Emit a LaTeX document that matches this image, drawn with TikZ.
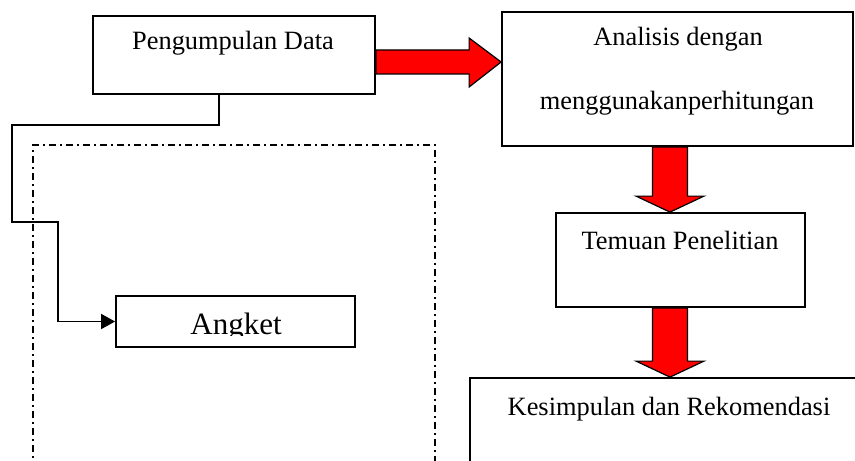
\documentclass[tikz,border=0pt]{standalone}
\usepackage{fontspec}
\setmainfont{Liberation Serif}
\usetikzlibrary{arrows.meta,calc}

\begin{document}
\begin{tikzpicture}[
    x=0.5pt, y=-0.5pt,
    font=\fontsize{13.2}{16}\selectfont,
    box/.style={draw, line width=0.9pt, inner sep=0pt},
    txt/.style={anchor=base, inner sep=0pt},
    link/.style={-{Triangle[length=7pt, width=7.5pt]}, line width=0.9pt},
    bigarrow/.style={fill=red, draw=black, line width=0.6pt, line join=miter},
    group/.style={draw, line width=0.6pt, dash pattern=on 3.5pt off 2pt on 1pt off 2pt, inner sep=0pt}
]
\useasboundingbox (0,0) rectangle (855,460);
\clip (0,0) rectangle (855,460);

% boxes
\node[box, minimum width=141pt, minimum height=39pt] (collect) at (234,55) {};
\node[txt] (collecttxt) at (233,50) {Pengumpulan Data};
\node[box, minimum width=175.5pt, minimum height=67pt] (analysis) at (677.5,79) {};
\node[txt] (analysistxt) at (678,46) {Analisis dengan};
\node[txt] (analysistxtb) at (677,110) {menggunakanperhitungan};
\node[box, minimum width=124.5pt, minimum height=47pt] (findings) at (680.5,260) {};
\node[txt] (findingstxt) at (680,249) {Temuan Penelitian};
\node[box, minimum width=199pt, minimum height=47pt] (conclusion) at (669,425) {};
\node[txt] (conclusiontxt) at (669,415) {Kesimpulan dan Rekomendasi};
\node[group, minimum width=201pt, minimum height=187.5pt] (instrument) at (234,332.5) {};
\node[box, minimum width=119.5pt, minimum height=25.5pt] (survey) at (235.5,321.5) {};
\coordinate (cut) at (355,335);
\begin{scope}
  \clip (survey.north west) rectangle (cut);
  \node[txt, font=\fontsize{15.5}{18}\selectfont] (surveytxt) at (236,334.5) {Angket};
\end{scope}

% connector to Angket
\coordinate (split) at (219,0);
\draw[link] (collect.south -| split) |- (12,125) |- (58,222) |- (survey.west);

% red block arrows
\coordinate (r) at (0,62);
\coordinate (ra) at (collect.east |- r);
\coordinate (rb) at (analysis.west |- r);
\filldraw[bigarrow] ($(ra)+(0,-12)$) -- ($(rb)+(-32,-12)$) -- ($(rb)+(-32,-24)$) -- (rb)
  -- ($(rb)+(-32,25)$) -- ($(rb)+(-32,12)$) -- ($(ra)+(0,12)$) -- cycle;

\coordinate (d) at (670,0);
\foreach \from/\to in {analysis/findings, findings/conclusion} {
  \coordinate (da) at (\from.south -| d);
  \coordinate (db) at (\to.north -| d);
  \filldraw[bigarrow] ($(da)+(-17.5,0)$) -- ($(db)+(-17.5,-16)$) -- ($(db)+(-34,-16)$) -- (db)
    -- ($(db)+(34,-16)$) -- ($(db)+(17.5,-16)$) -- ($(da)+(17.5,0)$) -- cycle;
}
\end{tikzpicture}
\end{document}
